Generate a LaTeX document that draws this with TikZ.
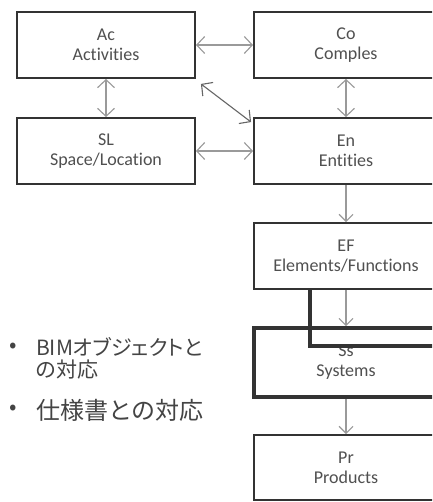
\documentclass[tikz,border=0pt]{standalone}
\usepackage{fontspec}
\setmainfont{Carlito}[Ligatures=NoCommon]
\newfontfamily\jpfont{Noto Sans CJK JP}
\newfontfamily\jppfont{Noto Sans CJK JP}[RawFeature=+palt]
\usetikzlibrary{arrows.meta}
\definecolor{ink}{HTML}{505050}
\definecolor{frame}{HTML}{333333}
\definecolor{wire}{HTML}{9A9A9A}
\definecolor{jpink}{HTML}{444444}

\tikzset{
  cls/.style={draw=frame,line width=1.9pt,fill=white,minimum height=66pt,
    font=\fontsize{18}{20}\selectfont,text=ink,align=center,inner sep=0pt},
  link/.style={wire,line width=1.1pt,
    {Straight Barb[length=8pt,width=17pt]}-{Straight Barb[length=8pt,width=17pt]}},
  down/.style={wire,line width=1.1pt,-{Straight Barb[length=7pt,width=14pt]}},
  bullet/.style={font=\jpfont\fontsize{22}{22}\selectfont,text=jpink,anchor=west,align=left,inner sep=0pt},
}

\begin{document}
\begin{tikzpicture}[x=1pt,y=-1pt]
  \clip (0,0) rectangle (432,502);
  \fill[white] (0,0) rectangle (432,502);

  % left column
  \node[cls,minimum width=178pt] (ac) at (106,45) {Ac\\Activities};
  \node[cls,minimum width=178pt] (sl) at (106,151) {SL\\Space/Location};
  % right column, cut at the page edge
  \node[cls,minimum width=184pt] (co) at (346,45) {Co\\Comples};
  \node[cls,minimum width=184pt] (en) at (346,151) {En\\Entities};
  \node[cls,minimum width=184pt] (ef) at (346,256) {EF\\Elements/Functions};
  \node[cls,minimum width=184pt,line width=3.6pt,minimum height=69pt] (ss) at (346,362.5) {Ss\\Systems};
  \node[cls,minimum width=184pt,minimum height=65pt] (pr) at (346,467.5) {Pr\\Products};

  \draw[link] (ac) -- (co);
  \draw[link] (ac) -- (sl);
  \draw[link] (co) -- (en);
  \draw[link] (sl) -- (en);
  \path (ac.south east) ++(5,5) coordinate (d1) (en.north west) ++(-2,5) coordinate (d2);
  \draw[link,draw=gray!80!black] (d1) -- (d2);
  \draw[down] (en) -- (ef);
  \draw[down] (ef) -- (ss);
  \draw[down] (ss) -- (pr);

  % highlight frame over EF/Ss
  \draw[frame,line width=3.6pt] (310,290) -- (310,346) -- (440,346);

  \node[bullet] (b1) at (9,348) {•};
  \node[bullet,font=\jppfont\fontsize{21}{22}\selectfont] (t1) at (36,358) {BIMオブジェクトと\\の対応};
  \node[bullet] (b2) at (9,410) {•};
  \node[bullet,font=\jpfont\fontsize{24}{26}\selectfont] (t2) at (36,410) {仕様書との対応};
\end{tikzpicture}
\end{document}
